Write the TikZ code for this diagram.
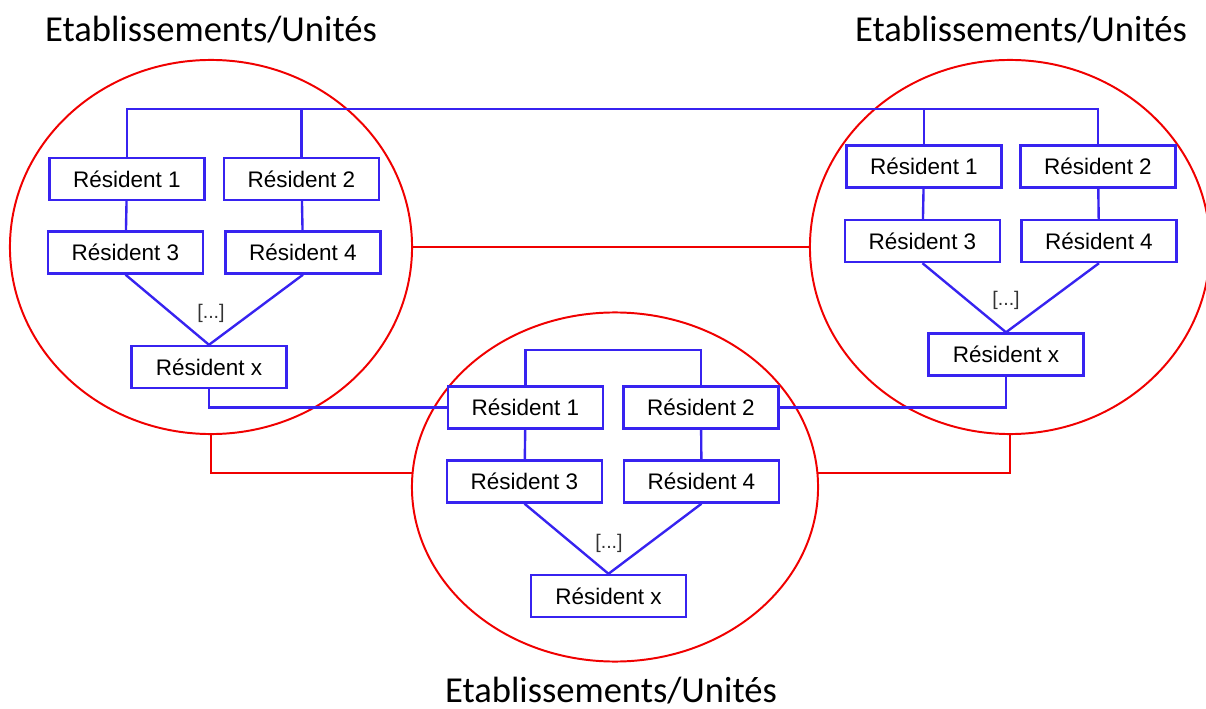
\documentclass[tikz,border=0pt]{standalone}
\usepackage{fontspec}
\setmainfont{Liberation Sans}
\newfontfamily\titlefont{Carlito}
\usetikzlibrary{shapes.geometric}
\definecolor{resblue}{RGB}{55,35,240}
\definecolor{unitred}{RGB}{240,0,0}
\begin{document}
\begin{tikzpicture}[x=0.025cm,y=-0.025cm,
        resbox/.style={draw=resblue,line width=1.7pt,minimum width=3.875cm,minimum height=1.05cm,inner sep=0pt,font=\fontsize{16}{18}\selectfont},
        unit/.style={draw=unitred,line width=1.4pt,ellipse,inner sep=0pt},
        link/.style={resblue,line width=1.7pt},
        tie/.style={unitred,line width=1.4pt},
        titre/.style={font=\titlefont\fontsize{26}{30}\selectfont},
        dots/.style={font=\fontsize{14}{16}\selectfont,text=black!80}]
        \useasboundingbox (0,0) rectangle (1206,709);

        % les trois etablissements
        \node[unit,minimum width=10.05cm,minimum height=9.35cm] (lu) at (211,247){};
        \node[unit,minimum width=10cm,minimum height=9.35cm] (ru) at (1010,247){};
        \node[unit,minimum width=10.15cm,minimum height=8.725cm] (bu) at (615,487){};

        \node[titre] (lt) at (211,30){Etablissements/Unités};
        \node[titre] (rt) at (1021,30){Etablissements/Unités};
        \node[titre] (bt) at (611,691){Etablissements/Unités};

        \draw[tie] (lu.east) -- (ru.west);
        \draw[tie] (lu.south) |- (bu.176);
        \draw[tie] (ru.south) |- (bu.4);

        % gauche
        \node[resbox] (l1) at (127,179){Résident 1};
        \node[resbox] (l2) at (301.5,179){Résident 2};
        \node[resbox] (l3) at (125.5,252.5){Résident 3};
        \node[resbox] (l4) at (303,252.5){Résident 4};
        \node[resbox] (lx) at (209,367){Résident x};
        \node[dots] (ld) at (211,313){[...]};

        % droite
        \node[resbox] (r1) at (924,166.5){Résident 1};
        \node[resbox] (r2) at (1098,166.5){Résident 2};
        \node[resbox] (r3) at (922.5,241){Résident 3};
        \node[resbox] (r4) at (1099,241){Résident 4};
        \node[resbox] (rx) at (1006,354.5){Résident x};
        \node[dots] (rd) at (1006,300){[...]};

        % bas
        \node[resbox] (b1) at (525.5,407.5){Résident 1};
        \node[resbox] (b2) at (701,407.5){Résident 2};
        \node[resbox] (b3) at (524.5,481.5){Résident 3};
        \node[resbox] (b4) at (701.5,481.5){Résident 4};
        \node[resbox] (bx) at (608.5,596){Résident x};
        \node[dots] (bd) at (609,543){[...]};

        \draw[link] (l1.north) |- (r2.north |- 0,109) -- (r2.north);
        \draw[link] (l2.north) -- (l2.north |- 0,109);
        \draw[link] (r1.north) -- (r1.north |- 0,109);
        \draw[link] (b1.north) -- ++(0,-35) -| (b2.north);

        \draw[link] (l1) -- (l3);
        \draw[link] (l2) -- (l4);
        \draw[link] (l3.south) -- (lx.north) -- (l4.south);
        \draw[link] (r1) -- (r3);
        \draw[link] (r2) -- (r4);
        \draw[link] (r3.south) -- (rx.north) -- (r4.south);
        \draw[link] (b1) -- (b3);
        \draw[link] (b2) -- (b4);
        \draw[link] (b3.south) -- (bx.north) -- (b4.south);

        \draw[link] (lx.south) |- (b1.west);
        \draw[link] (rx.south) |- (b2.east);
    \end{tikzpicture}
\end{document}
